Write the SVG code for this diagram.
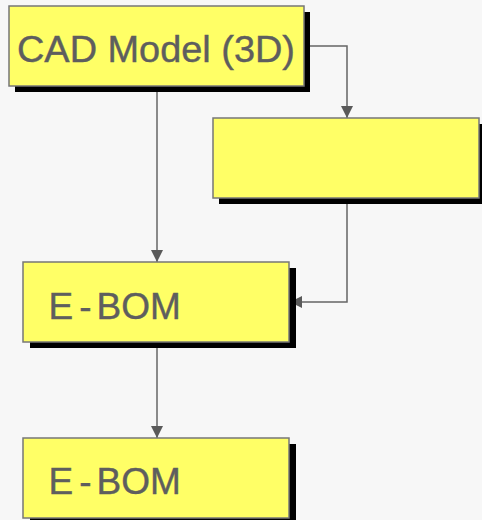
<svg xmlns="http://www.w3.org/2000/svg" width="482" height="520" viewBox="0 0 482 520">
<style>
.box{fill:#ffff66;stroke:#777;stroke-width:1.5}
.sh{fill:#000}
.t{font-family:"Liberation Sans",Arial,sans-serif;font-size:37px;fill:#5e5e5e;stroke:#5e5e5e;stroke-width:0.4}
.c{fill:none;stroke:#666;stroke-width:1.5}
</style>
<defs>
<marker id="ah" viewBox="0 0 12 12" refX="12" refY="6" markerWidth="12" markerHeight="12" markerUnits="userSpaceOnUse" orient="auto">
<path d="M0,0 L12,6 L0,12 Z" fill="#5a5a5a"/>
</marker>
</defs>
<rect width="482" height="520" fill="#f7f7f7"/>
<g id="connectors">
<path class="c" d="M157,86 V262" marker-end="url(#ah)"/>
<path class="c" d="M304,46 H347 V118" marker-end="url(#ah)"/>
<path class="c" d="M347,198 V302 H290" marker-end="url(#ah)"/>
<path class="c" d="M157,342 V438" marker-end="url(#ah)"/>
</g>
<g id="cad">
<rect class="sh" x="15" y="12" width="295" height="80"/>
<rect class="box" x="9" y="6" width="295" height="80"/>
<text class="t" x="17" y="62" textLength="278" lengthAdjust="spacingAndGlyphs">CAD Model (3D)</text>
</g>
<g id="blank">
<rect class="sh" x="219" y="124" width="263" height="80"/>
<rect class="box" x="213" y="118" width="266" height="80"/>
</g>
<g id="ebom1">
<rect class="sh" x="30" y="268" width="266" height="80"/>
<rect class="box" x="23" y="262" width="266" height="80"/>
<text class="t" x="48.5" y="319">E<tspan dx="6">-</tspan><tspan dx="5">BOM</tspan></text>
</g>
<g id="ebom2">
<rect class="sh" x="30" y="444" width="266" height="80"/>
<rect class="box" x="23" y="438" width="266" height="80"/>
<text class="t" x="48.5" y="494">E<tspan dx="6">-</tspan><tspan dx="5">BOM</tspan></text>
</g>
</svg>
